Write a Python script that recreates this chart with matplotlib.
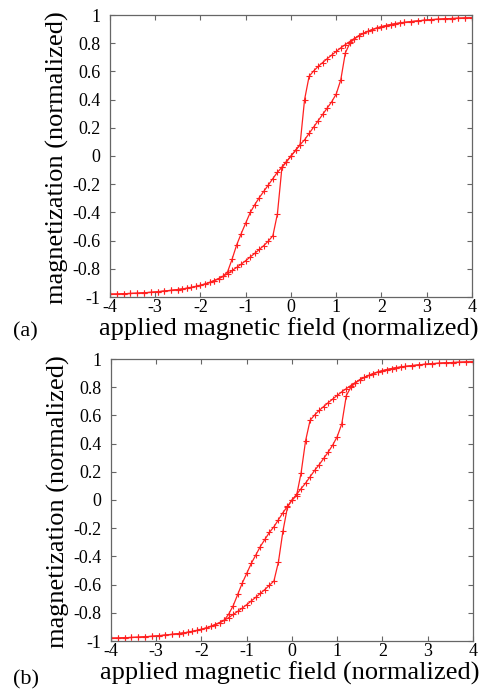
import matplotlib
matplotlib.use("Agg")
from matplotlib import pyplot as plt

plt.rcParams['font.family'] = ['Liberation Serif', 'DejaVu Serif']
plt.rcParams['axes.unicode_minus'] = False

# shared saturated tails (x from +4 towards +1.5)
tail_x = [4.0, 3.85, 3.7, 3.55, 3.4, 3.25, 3.1, 2.95, 2.8, 2.65, 2.5, 2.4, 2.3,
          2.2, 2.1, 2.0, 1.9, 1.8, 1.7, 1.6, 1.5]
tail_m = [0.980, 0.979, 0.977, 0.975, 0.973, 0.970, 0.967, 0.963, 0.958, 0.953,
          0.947, 0.943, 0.938, 0.932, 0.925, 0.917, 0.908, 0.897, 0.884, 0.870, 0.853]

# middle part of each branch
mid_down_x = [1.4, 1.3, 1.2, 1.1, 1.0, 0.9, 0.8, 0.7, 0.6, 0.5, 0.4, 0.3, 0.2, 0.1, 0.0,
              -0.1, -0.2, -0.3, -0.4, -0.5, -0.6, -0.7, -0.8, -0.9, -1.0, -1.1, -1.2, -1.3, -1.4]
mid_up_x = mid_down_x[::-1]

# panel (a)
a_down_m = [0.833, 0.812, 0.79, 0.767, 0.742, 0.716, 0.69, 0.663, 0.635, 0.603, 0.565, 0.40,
            0.08, 0.04, 0.0, -0.04, -0.08, -0.115, -0.16, -0.205, -0.25, -0.295, -0.345,
            -0.40, -0.475, -0.55, -0.63, -0.73, -0.82]
a_up_m = [-0.835, -0.812, -0.79, -0.767, -0.742, -0.716, -0.69, -0.663, -0.635, -0.603,
          -0.565, -0.41, -0.08, -0.04, 0.0, 0.04, 0.08, 0.115, 0.16, 0.205, 0.25, 0.295,
          0.34, 0.385, 0.44, 0.54, 0.73, 0.80, 0.83]

# panel (b)
b_down_m = [0.833, 0.812, 0.79, 0.767, 0.742, 0.716, 0.69, 0.663, 0.635, 0.603, 0.565, 0.42,
            0.19, 0.03, 0.0, -0.045, -0.09, -0.14, -0.19, -0.23, -0.28, -0.33, -0.39,
            -0.45, -0.52, -0.59, -0.67, -0.75, -0.81]
b_up_m = [-0.835, -0.812, -0.79, -0.767, -0.742, -0.716, -0.69, -0.663, -0.635, -0.605,
          -0.575, -0.44, -0.22, -0.05, 0.0, 0.04, 0.08, 0.12, 0.165, 0.21, 0.25, 0.295,
          0.34, 0.39, 0.45, 0.54, 0.74, 0.80, 0.83]

xticks = [-4, -3, -2, -1, 0, 1, 2, 3, 4]
yticks = [-1, -0.8, -0.6, -0.4, -0.2, 0, 0.2, 0.4, 0.6, 0.8, 1]
yticklabels = ['-1', '-0.8', '-0.6', '-0.4', '-0.2', '0', '0.2', '0.4', '0.6', '0.8', '1']


def branch(mid_x, mid_m, down):
    # negative tail, ordered from -1.5 to -4
    neg_x = [-v for v in tail_x[::-1]]
    neg_m = [-v for v in tail_m[::-1]]
    if down:
        return tail_x + mid_x + neg_x, tail_m + mid_m + neg_m
    return neg_x[::-1] + mid_x + tail_x[::-1], neg_m[::-1] + mid_m + tail_m[::-1]


def draw(ax, down_m, up_m, tag, fig, tag_y):
    for mid_x, mid_m, down in [(mid_down_x, down_m, True), (mid_up_x, up_m, False)]:
        xs, ms = branch(mid_x, mid_m, down)
        ax.plot(xs, ms, color='#ff2020', lw=0.9, marker='+', ms=4.5, mew=0.8)
    ax.set_xlim(-4, 4)
    ax.set_ylim(-1, 1)
    ax.set_xticks(xticks)
    ax.set_xticklabels([str(v) for v in xticks])
    ax.set_yticks(yticks)
    ax.set_yticklabels(yticklabels)
    ax.tick_params(direction='in', top=True, right=True, length=3.5, width=0.8,
                   color='#666666', labelsize=13)
    ax.tick_params(axis='x', pad=1.5)
    ax.tick_params(axis='y', pad=7)
    for s in ax.spines.values():
        s.set_color('#666666')
        s.set_linewidth(0.9)
    ax.set_xlabel('applied magnetic field (normalized)', fontsize=19)
    ax.set_ylabel('magnetization (normalized)', fontsize=19)
    ax.xaxis.label.set_va('center')
    ax.yaxis.label.set_va('center')
    ax.xaxis.set_label_coords(0.494, -0.113)
    ax.yaxis.set_label_coords(-0.146, 0.496)
    fig.text(13 / 489, tag_y, tag, fontsize=16, ha='left', va='center')


fig = plt.figure(figsize=(4.89, 6.92), dpi=100)
ax_a = fig.add_axes([110 / 489, 1 - 297 / 692, 362 / 489, 282 / 692])
ax_b = fig.add_axes([111 / 489, 1 - 641 / 692, 362 / 489, 282 / 692])
draw(ax_a, a_down_m, a_up_m, '(a)', fig, 1 - 332 / 692)
draw(ax_b, b_down_m, b_up_m, '(b)', fig, 1 - 680 / 692)
fig.savefig('out.png', dpi=100)
